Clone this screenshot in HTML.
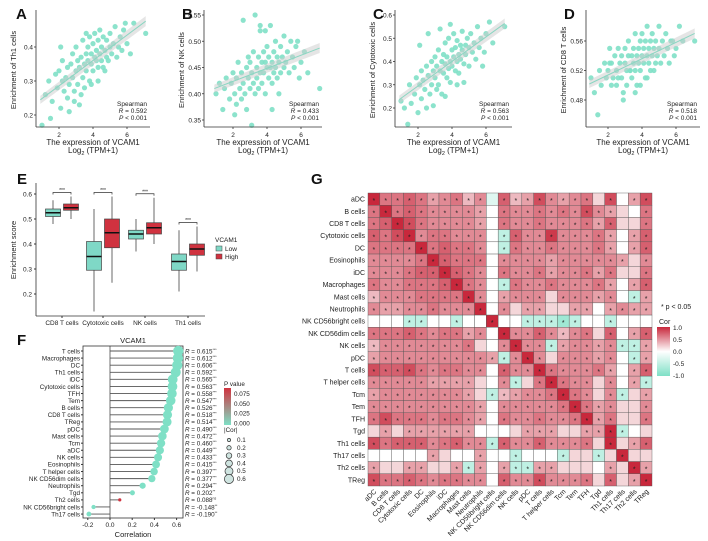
<!DOCTYPE html>
<html><head><meta charset="utf-8">
<style>
html,body{margin:0;padding:0;background:#fff;}
svg{display:block;font-family:"Liberation Sans",Arial,sans-serif;}
</style></head>
<body>
<svg id="fig" width="708" height="541" viewBox="0 0 708 541" xmlns="http://www.w3.org/2000/svg"></svg>
<script>
// ---------- DATA ----------
const vcamX = [1.0,1.2,1.4,1.5,1.6,1.8,1.9,2.0,2.1,2.2,2.2,2.3,2.4,2.5,2.5,2.6,2.7,2.8,2.8,2.9,3.0,3.0,3.1,3.1,3.2,3.2,3.3,3.4,3.4,3.5,3.5,3.6,3.6,3.7,3.7,3.8,3.8,3.9,3.9,4.0,4.0,4.1,4.1,4.2,4.2,4.3,4.3,4.4,4.4,4.5,4.5,4.6,4.6,4.7,4.8,4.8,4.9,5.0,5.0,5.1,5.2,5.3,5.4,5.5,5.6,5.7,5.9,6.0,6.2,6.4,7.1,2.6,3.3,3.9,4.3,2.1,3.6,4.7,2.9,5.8];
const th1Y = [0.17,0.26,0.30,0.19,0.24,0.32,0.28,0.33,0.22,0.30,0.36,0.27,0.31,0.34,0.25,0.29,0.35,0.31,0.38,0.27,0.33,0.40,0.29,0.36,0.34,0.23,0.37,0.31,0.42,0.35,0.28,0.38,0.33,0.40,0.36,0.30,0.43,0.35,0.38,0.41,0.33,0.37,0.44,0.36,0.39,0.34,0.42,0.38,0.45,0.36,0.40,0.34,0.43,0.39,0.37,0.42,0.36,0.40,0.44,0.38,0.41,0.46,0.37,0.40,0.43,0.39,0.47,0.41,0.38,0.47,0.44,0.21,0.26,0.29,0.30,0.40,0.44,0.33,0.24,0.45];
const nkY = [0.40,0.42,0.37,0.41,0.43,0.39,0.42,0.44,0.40,0.38,0.43,0.46,0.41,0.39,0.44,0.42,0.40,0.45,0.37,0.43,0.41,0.46,0.34,0.44,0.42,0.48,0.40,0.45,0.43,0.47,0.41,0.44,0.52,0.46,0.42,0.48,0.44,0.46,0.40,0.45,0.49,0.43,0.47,0.45,0.53,0.42,0.46,0.48,0.44,0.50,0.45,0.47,0.43,0.46,0.49,0.44,0.47,0.45,0.51,0.46,0.48,0.44,0.50,0.47,0.45,0.49,0.43,0.46,0.48,0.44,0.41,0.54,0.55,0.52,0.37,0.36,0.53,0.40,0.47,0.50];
const cytoY = [0.23,0.20,0.13,0.30,0.22,0.26,0.33,0.18,0.30,0.36,0.24,0.32,0.28,0.20,0.38,0.34,0.26,0.40,0.30,0.36,0.33,0.42,0.28,0.38,0.45,0.30,0.36,0.40,0.26,0.43,0.35,0.39,0.48,0.33,0.42,0.37,0.50,0.40,0.31,0.45,0.38,0.42,0.52,0.36,0.46,0.40,0.49,0.43,0.35,0.47,0.41,0.45,0.53,0.39,0.47,0.43,0.50,0.38,0.46,0.52,0.44,0.48,0.41,0.55,0.46,0.50,0.44,0.52,0.57,0.48,0.55,0.52,0.54,0.56,0.30,0.47,0.25,0.31,0.21,0.38];
const cd8Y = [0.51,0.49,0.46,0.52,0.50,0.53,0.51,0.52,0.55,0.50,0.53,0.51,0.54,0.52,0.50,0.55,0.53,0.51,0.54,0.48,0.53,0.55,0.52,0.50,0.54,0.56,0.52,0.54,0.51,0.55,0.53,0.57,0.52,0.54,0.50,0.55,0.53,0.56,0.52,0.54,0.57,0.53,0.55,0.51,0.56,0.54,0.58,0.53,0.55,0.52,0.56,0.54,0.57,0.55,0.53,0.56,0.54,0.58,0.55,0.53,0.56,0.54,0.57,0.55,0.53,0.56,0.54,0.55,0.58,0.56,0.56,0.51,0.52,0.50,0.51,0.53,0.49,0.52,0.49,0.56];
const spearmanR = ["0.592","0.433","0.563","0.518"];

const boxCats = ["CD8 T cells","Cytotoxic cells","NK cells","Th1 cells"];
// [whiskerLow, q1, median, q3, whiskerHigh]
const boxLow = [[0.48,0.51,0.525,0.54,0.575],[0.13,0.295,0.35,0.41,0.54],[0.37,0.42,0.44,0.455,0.50],[0.21,0.295,0.33,0.36,0.455]];
const boxHigh = [[0.50,0.535,0.545,0.56,0.59],[0.245,0.385,0.445,0.50,0.59],[0.40,0.44,0.465,0.485,0.585],[0.29,0.355,0.38,0.40,0.47]];
const boxTicks = [0.2,0.3,0.4,0.5,0.6];

const lolCats = ["T cells","Macrophages","DC","Th1 cells","iDC","Cytotoxic cells","TFH","Tem","B cells","CD8 T cells","TReg","pDC","Mast cells","Tcm","aDC","NK cells","Eosinophils","T helper cells","NK CD56dim cells","Neutrophils","Tgd","Th2 cells","NK CD56bright cells","Th17 cells"];
const lolR = [0.615,0.612,0.606,0.592,0.565,0.563,0.558,0.547,0.526,0.518,0.514,0.490,0.472,0.460,0.449,0.433,0.415,0.397,0.377,0.294,0.202,0.088,-0.148,-0.190];
const lolSig = ["***","***","***","***","***","***","***","***","***","***","***","***","***","***","***","***","***","***","***","***","**","ns","**","**"];
const lolTicks = [-0.2,0,0.2,0.4,0.6];

const hmCats = ["aDC","B cells","CD8 T cells","Cytotoxic cells","DC","Eosinophils","iDC","Macrophages","Mast cells","Neutrophils","NK CD56bright cells","NK CD56dim cells","NK cells","pDC","T cells","T helper cells","Tcm","Tem","TFH","Tgd","Th1 cells","Th17 cells","Th2 cells","TReg"];
// digits 0-9 = 0.0..0.9 ; a=-0.1 b=-0.2 c=-0.3
const hmRows = [
"9556534524a6237434517037",
"595654444305445454743105",
"569754444305445444536115",
"65794554440b644844453036",
"55559565540b544544453036",
"444459655504444344444314",
"444566965405445344535115",
"54455569540b544544453036",
"2444555594034441444340b3",
"433445444904133113303433",
"000bb00b00900bbbcb00b000",
"555654553409446424516036",
"244444445104944b34434bb3",
"34444444443b4941444340b3",
"766754554406449544453036",
"444443333104b1595441403b",
"3444444431b2344595414b13",
"444444444304444459534114",
"575554554305445445935115",
"131333333000133311339b01",
"7566645644b6446444519136",
"000003100300b000b11b1911",
"31133113b303bb3311103193",
"755654554406447444516139"
];
const corTicks = [1.0,0.5,0.0,-0.5,-1.0];

// ---------- helpers ----------
const NS="http://www.w3.org/2000/svg";
const svg=document.getElementById('fig');
function el(tag,attrs,parent){const e=document.createElementNS(NS,tag);for(const k in attrs)e.setAttribute(k,attrs[k]);(parent||svg).appendChild(e);return e;}
function txt(s,x,y,attrs,parent){const t=el('text',Object.assign({x:x,y:y,fill:'#222','font-size':7},attrs||{}),parent);t.textContent=s;return t;}
const MINT='#7fe0c6';

// ---------- scatter panels ----------
const panels=[
 {L:'A',ys:th1Y,ax:36,right:150,x2:59,yv0:0.2,yp0:115,ppu:340,ticks:[0.2,0.3,0.4],fmt:v=>v.toFixed(1),lab:'Enrichment of Th1 cells',r:0},
 {L:'B',ys:nkY,ax:204,right:322,x2:233,yv0:0.35,yp0:120,ppu:525,ticks:[0.35,0.40,0.45,0.50,0.55],fmt:v=>v.toFixed(2),lab:'Enrichment of NK cells',r:1},
 {L:'C',ys:cytoY,ax:395,right:512,x2:418,yv0:0.2,yp0:108,ppu:232.5,ticks:[0.2,0.3,0.4,0.5,0.6],fmt:v=>v.toFixed(1),lab:'Enrichment of Cytotoxic cells',r:2},
 {L:'D',ys:cd8Y,ax:586,right:700,x2:608,yv0:0.48,yp0:100,ppu:737.5,ticks:[0.48,0.52,0.56],fmt:v=>v.toFixed(2),lab:'Enrichment of CD8 T cells',r:3}
];
panels.forEach(p=>{
  const g=el('g',{}); 
  
  const sx=v=>p.x2+(v-2)*17, sy=v=>p.yp0-(v-p.yv0)*p.ppu;
  const lt=txt(p.L,p.ax-(p.L==='A'?20:22),19,{'font-size':15,'font-weight':'bold',fill:'#111'},g);
   
  p.ys.forEach((v,i)=>{const c=el('circle',{cx:sx(vcamX[i]),cy:sy(v),r:2.6,fill:MINT,opacity:0.9},g);
     });
  const n=vcamX.length;let mx=0,my=0;for(let i=0;i<n;i++){mx+=vcamX[i];my+=p.ys[i];}mx/=n;my/=n;
  let sxy=0,sxx=0;for(let i=0;i<n;i++){sxy+=(vcamX[i]-mx)*(p.ys[i]-my);sxx+=(vcamX[i]-mx)**2;}
  const b=sxy/sxx,a=my-b*mx;const x0=0.9,x1=7.1;
  el('polygon',{points:`${sx(x0)},${sy(a+b*x0)-4} ${sx(x1)},${sy(a+b*x1)-5} ${sx(x1)},${sy(a+b*x1)+5} ${sx(x0)},${sy(a+b*x0)+4}`,fill:'#ccc',opacity:0.5},g);
  const fl=el('line',{x1:sx(x0),y1:sy(a+b*x0),x2:sx(x1),y2:sy(a+b*x1),stroke:'#8ad6c2','stroke-width':1},g);
   
  el('line',{x1:p.ax,y1:10,x2:p.ax,y2:127,stroke:'#333','stroke-width':0.8},g);
  el('line',{x1:p.ax,y1:127,x2:p.right,y2:127,stroke:'#333','stroke-width':0.8},g);
  p.ticks.forEach(t=>{const y=sy(t);el('line',{x1:p.ax-2,y1:y,x2:p.ax,y2:y,stroke:'#333','stroke-width':0.8},g);
    txt(p.fmt(t),p.ax-3,y+2.5,{'text-anchor':'end','font-size':6.5},g);});
  [2,4,6].forEach(t=>{const x=sx(t);el('line',{x1:x,y1:127,x2:x,y2:129,stroke:'#333','stroke-width':0.8},g);
    txt(String(t),x,137,{'text-anchor':'middle','font-size':6.5},g);});
  const cx=(p.ax+p.right)/2;
  const xl=txt('The expression of VCAM1',cx,145,{'text-anchor':'middle','font-size':8},g);
   
  const l2=el('text',{x:cx,y:153,'text-anchor':'middle','font-size':8,fill:'#222'},g);
  l2.innerHTML='Log<tspan font-size="5.5" dy="2">2</tspan><tspan dy="-2"> (TPM+1)</tspan>';
  const yl=txt(p.lab,0,0,{'text-anchor':'middle','font-size':7.5,transform:`translate(${p.ax-20},70) rotate(-90)`},g);
   
  txt('Spearman',p.right-3,106,{'text-anchor':'end','font-size':6.5},g);
  const r=el('text',{x:p.right-3,y:113,'text-anchor':'end','font-size':6.5,fill:'#222'},g);
  r.innerHTML='<tspan font-style="italic">R</tspan> = '+spearmanR[p.r];
  const pp=el('text',{x:p.right-3,y:120,'text-anchor':'end','font-size':6.5,fill:'#222'},g);
  pp.innerHTML='<tspan font-style="italic">P</tspan> &lt; 0.001';
});

// ---------- Panel E boxplot ----------
(function(){
  const g=el('g',{});  
  txt('E',17,184,{'font-size':15,'font-weight':'bold',fill:'#111'},g);
  const sy=v=>194-(v-0.6)*250; const cxs=[62,103,145,188];
  el('line',{x1:36,y1:183,x2:36,y2:316,stroke:'#333','stroke-width':0.8},g);
  el('line',{x1:36,y1:316,x2:205,y2:316,stroke:'#333','stroke-width':0.8},g);
  boxTicks.forEach(t=>{const y=sy(t);el('line',{x1:34,y1:y,x2:36,y2:y,stroke:'#333'},g);txt(t.toFixed(1),32,y+2.5,{'text-anchor':'end','font-size':6.5},g);});
  boxCats.forEach((c,i)=>{el('line',{x1:cxs[i],y1:316,x2:cxs[i],y2:318,stroke:'#333'},g);txt(c,cxs[i],325,{'text-anchor':'middle','font-size':6.5},g);});
  const yt=txt('Enrichment score',0,0,{'text-anchor':'middle','font-size':7.5,transform:'translate(16,250) rotate(-90)'},g);
   
  function box(d,x,fill,name){const w=15;
    const bg=el('g',{},g);  
    el('line',{x1:x,y1:sy(d[0]),x2:x,y2:sy(d[4]),stroke:'#444','stroke-width':0.8},bg);
    el('rect',{x:x-w/2,y:sy(d[3]),width:w,height:sy(d[1])-sy(d[3]),fill:fill,stroke:'#444','stroke-width':0.7},bg);
    el('line',{x1:x-w/2,y1:sy(d[2]),x2:x+w/2,y2:sy(d[2]),stroke:'#111','stroke-width':1.5},bg);}
  boxCats.forEach((c,i)=>{
    box(boxLow[i],cxs[i]-9,'#7fd8c6','box-low-'+i);
    box(boxHigh[i],cxs[i]+9,'#d0323f','box-high-'+i);
    const top=sy(Math.max(boxLow[i][4],boxHigh[i][4]))-4;
    el('path',{d:`M${cxs[i]-9},${top+2}V${top}H${cxs[i]+9}V${top+2}`,stroke:'#333',fill:'none','stroke-width':0.7},g);
    txt('***',cxs[i],top-0.5,{'text-anchor':'middle','font-size':5},g);
  });
  txt('VCAM1',215,242,{'font-size':6.5},g);
  const l1=el('rect',{x:216,y:246,width:6,height:5,fill:'#7fd8c6',stroke:'#444','stroke-width':0.5},g);
   
  txt('Low',225,251,{'font-size':6.5},g);
  const l2=el('rect',{x:216,y:254,width:6,height:5,fill:'#d0323f',stroke:'#444','stroke-width':0.5},g);
   
  txt('High',225,259,{'font-size':6.5},g);
})();

// ---------- Panel F lollipop ----------
(function(){
  const g=el('g',{});  
  txt('F',17,345,{'font-size':15,'font-weight':'bold',fill:'#111'},g);
  txt('VCAM1',133,343,{'text-anchor':'middle','font-size':7.5},g);
  const sx=v=>110+v*111; const sy=i=>351+i*7.09;
  el('rect',{x:83,y:346,width:100,height:172,fill:'none',stroke:'#333','stroke-width':0.8},g);
  lolTicks.forEach(t=>{const x=sx(t);el('line',{x1:x,y1:518,x2:x,y2:520,stroke:'#333'},g);txt(t.toFixed(1),x,527,{'text-anchor':'middle','font-size':6.5},g);});
  txt('Correlation',133,537,{'text-anchor':'middle','font-size':7.5},g);
  el('line',{x1:sx(0),y1:346,x2:sx(0),y2:518,stroke:'#333','stroke-width':0.7},g);
  lolCats.forEach((c,i)=>{const y=sy(i),v=lolR[i];
    el('line',{x1:81,y1:y,x2:83,y2:y,stroke:'#333'},g);
    txt(c,80,y+2.3,{'text-anchor':'end','font-size':6.3},g);
    el('line',{x1:sx(0),y1:y,x2:sx(v),y2:y,stroke:'#555','stroke-width':0.9},g);
    const red=lolSig[i]==='ns';
    const d=el('circle',{cx:sx(v),cy:y,r:red?1.6:1.2+Math.abs(v)*6.5,fill:red?'#d0323f':MINT},g);
     
    const t=el('text',{x:185,y:y+2.3,'font-size':6.3,fill:'#222'},g);
    t.innerHTML='<tspan font-style="italic">R</tspan> = '+lolR[i].toFixed(3)+'<tspan font-size="3.5" dy="-2.5">'+lolSig[i]+'</tspan>';
  });
  txt('P value',224,386,{'font-size':6.3},g);
  const gr=el('linearGradient',{id:'pg',x1:0,y1:0,x2:0,y2:1},el('defs',{},g));
  el('stop',{offset:0,'stop-color':'#d0323f'},gr);el('stop',{offset:1,'stop-color':MINT},gr);
  const pb=el('rect',{x:224,y:388,width:7,height:37,fill:'url(#pg)'},g);
   
  ['0.075','0.050','0.025','0.000'].forEach((s,i)=>txt(s,234,396+i*9.8,{'font-size':6.3},g));
  txt('|Cor|',224,432,{'font-size':6.3},g);
  [0.1,0.2,0.3,0.4,0.5,0.6].forEach((v,i)=>{el('circle',{cx:229,cy:440+i*7.8,r:1+v*6,fill:'#cfe4e0',stroke:'#333','stroke-width':0.7},g);txt(String(v),237,442+i*7.8,{'font-size':6.3},g);});
})();

// ---------- Panel G heatmap ----------
(function(){
  const g=el('g',{});  
  txt('G',311,184,{'font-size':15,'font-weight':'bold',fill:'#111'},g);
  const n=hmCats.length, x0=368, y0=193, cw=(652-368)/n, ch=(486-193)/n;
  function val(ch){if(ch>='0'&&ch<='9')return (+ch)/10;return {a:-0.1,b:-0.2,c:-0.3}[ch]||0;}
  function col(v){ if(v>=0){const t=Math.pow(Math.min(1,v/0.9),0.75);
      return `rgb(${Math.round(255+(200-255)*t)},${Math.round(255+(40-255)*t)},${Math.round(255+(60-255)*t)})`;}
    const t=Math.min(1,-v/0.4);return `rgb(${Math.round(255+(127-255)*t)},${Math.round(255+(224-255)*t)},${Math.round(255+(198-255)*t)})`;}
  hmCats.forEach((rc,i)=>{
    const row=hmRows[i];
    txt(rc,365,y0+i*ch+ch/2+2.5,{'text-anchor':'end','font-size':7},g);
    for(let j=0;j<n;j++){const v=val(row[j]||'0');
      const c=el('rect',{x:x0+j*cw,y:y0+i*ch,width:cw,height:ch,fill:col(v),stroke:'#555','stroke-width':0.4},g);
       
      if(Math.abs(v)>=0.2 || i===j) txt('*',x0+j*cw+cw/2,y0+i*ch+ch/2+4,{'text-anchor':'middle','font-size':7,fill:'#222'},g);
    }
  });
  hmCats.forEach((c,j)=>{const x=x0+j*cw+cw/2+3;
    txt(c,0,0,{'text-anchor':'end','font-size':7,transform:`translate(${x},${492}) rotate(-45)`},g);});
  txt('* p < 0.05',661,309,{'font-size':7},g);
  txt('Cor',659,324,{'font-size':7},g);
  const gr=el('linearGradient',{id:'cg',x1:0,y1:0,x2:0,y2:1},el('defs',{},g));
  el('stop',{offset:0,'stop-color':'#c8283c'},gr);el('stop',{offset:0.5,'stop-color':'#ffffff'},gr);el('stop',{offset:1,'stop-color':MINT},gr);
  const cb=el('rect',{x:657,y:327,width:13,height:49,fill:'url(#cg)'},g);
   
  corTicks.forEach((t,i)=>txt(t.toFixed(1),673,330+i*12,{'font-size':6.5},g));
})();
</script>
</body></html>
